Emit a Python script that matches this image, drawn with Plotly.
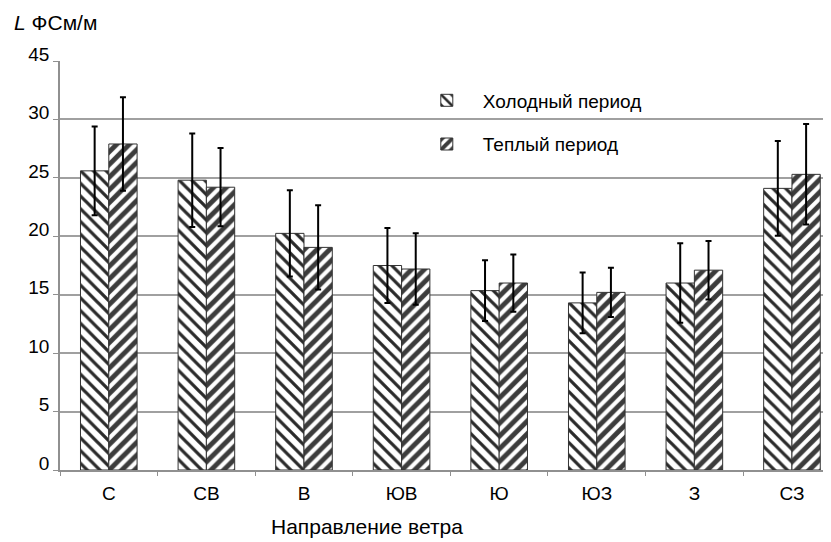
import plotly.graph_objects as go

categories = ["С", "СВ", "В", "ЮВ", "Ю", "ЮЗ", "З", "СЗ"]
cold_values = [25.6, 24.8, 20.25, 17.5, 15.35, 14.3, 16.0, 24.1]
cold_errors = [3.8, 4.0, 3.7, 3.2, 2.6, 2.6, 3.4, 4.05]
warm_values = [27.9, 24.2, 19.05, 17.2, 16.0, 15.2, 17.1, 25.3]
warm_errors = [4.0, 3.35, 3.6, 3.05, 2.45, 2.1, 2.5, 4.3]
y_tickvals = [0, 5, 10, 15, 20, 25, 30, 35]
y_ticktext = ["0", "5", "10", "15", "20", "25", "30", "45"]
series_names = ["Холодный период", "Теплый период"]

FONT = "Liberation Sans, Arial, Helvetica, sans-serif"

fig = go.Figure()
fig.add_trace(go.Bar(
    x=categories, y=cold_values, name=series_names[0], legendgroup="a",
    marker=dict(color="white", line=dict(color="#333333", width=1),
                pattern=dict(shape="\\", fgcolor="#2a2a2a", bgcolor="white",
                             size=9, solidity=0.36, fillmode="replace")),
    error_y=dict(type="data", array=cold_errors, visible=True,
                 color="black", thickness=2, width=3),
))
fig.add_trace(go.Bar(
    x=categories, y=warm_values, name=series_names[1], legendgroup="b",
    marker=dict(color="white", line=dict(color="#333333", width=1),
                pattern=dict(shape="/", fgcolor="#3c3c3c", bgcolor="white",
                             size=9, solidity=0.55, fillmode="replace")),
    error_y=dict(type="data", array=warm_errors, visible=True,
                 color="black", thickness=2, width=3),
))

fig.update_layout(
    width=823, height=534,
    margin=dict(l=52, r=0, t=53, b=72, autoexpand=False),
    paper_bgcolor="white", plot_bgcolor="white",
    barmode="group", bargap=0.42, bargroupgap=0,
    font=dict(family=FONT, size=19, color="black"),
    legend=dict(x=0.455, y=0.95, xanchor="left", yanchor="top",
                bgcolor="rgba(0,0,0,0)", font=dict(size=19),
                itemwidth=62,
                traceorder="grouped", tracegroupgap=16),
    xaxis=dict(range=[-0.5, 7.4], showgrid=False, showline=True,
               linecolor="#909090", linewidth=1.5,
               ticks="outside", tickson="boundaries", ticklen=4,
               tickcolor="#909090", ticklabelstandoff=5,
               tickfont=dict(size=19)),
    yaxis=dict(range=[0, 35], tickvals=y_tickvals, ticktext=y_ticktext,
               showgrid=True, gridcolor="#a0a0a0", gridwidth=1.5,
               showline=True, linecolor="#909090", linewidth=1.5,
               ticks="outside", ticklen=5, tickcolor="#909090",
               ticklabelshift=-7,
               zeroline=False, tickfont=dict(size=19)),
    showlegend=True,
)
fig.add_annotation(text="<i>L</i> ФСм/м", xref="paper", yref="paper",
                   x=-0.0623, y=1.093, xanchor="left", yanchor="middle",
                   showarrow=False, font=dict(size=21))
fig.add_annotation(text="Направление ветра", xref="paper", yref="paper",
                   x=0.398, y=-0.139, xanchor="center", yanchor="middle",
                   showarrow=False, font=dict(size=21))

fig.write_html("out.html")
